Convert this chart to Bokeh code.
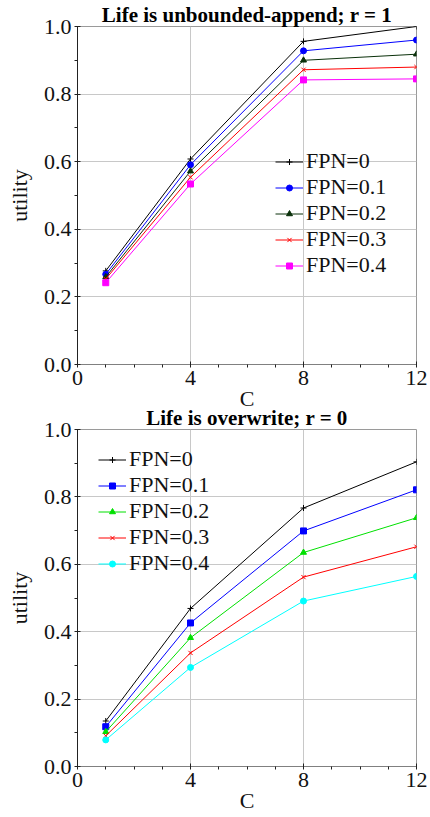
from bokeh.plotting import figure
from bokeh.layouts import column
from bokeh.models import Range1d, FixedTicker, Legend, LegendItem, CustomJSTickFormatter
from bokeh.embed import file_html
from bokeh.resources import INLINE

C = [1, 4, 8, 12]
labels = ["FPN=0", "FPN=0.1", "FPN=0.2", "FPN=0.3", "FPN=0.4"]

top_title = "Life is unbounded-append; r = 1"
top_vals = [
    [0.277, 0.608, 0.956, 1.000],
    [0.267, 0.591, 0.928, 0.960],
    [0.259, 0.572, 0.900, 0.918],
    [0.253, 0.554, 0.872, 0.880],
    [0.242, 0.534, 0.842, 0.845],
]
top_colors = ["#000000", "#0000ff", "#0a300a", "#ff0000", "#ff00ff"]
top_markers = ["cross", "circle", "triangle", "x", "square"]

bot_title = "Life is overwrite; r = 0"
bot_vals = [
    [0.135, 0.469, 0.767, 0.904],
    [0.118, 0.426, 0.699, 0.821],
    [0.103, 0.382, 0.635, 0.738],
    [0.091, 0.337, 0.562, 0.652],
    [0.079, 0.294, 0.491, 0.564],
]
bot_colors = ["#000000", "#0000ff", "#00e000", "#ff0000", "#00ffff"]
bot_markers = ["cross", "square", "triangle", "x", "circle"]

x_major = [0, 4, 8, 12]
x_minor = [1, 2, 3, 5, 6, 7, 9, 10, 11]
y_major = [0.0, 0.2, 0.4, 0.6, 0.8, 1.0]
y_minor = [0.1, 0.3, 0.5, 0.7, 0.9]

FONT = "Liberation Serif"


def make(title, vals, colors, markers, frame_h, legend_xy, border_alpha):
    p = figure(frame_width=339, frame_height=frame_h, output_backend="svg", toolbar_location=None,
               x_range=Range1d(0, 12), y_range=Range1d(0, 1.0),
               min_border_left=77, min_border_right=14, min_border_top=26,
               min_border_bottom=51, title=title)
    p.title.text_font = FONT
    p.title.text_font_size = "21px"
    p.title.text_font_style = "bold"
    p.title.text_color = "#000000"
    p.title.align = "center"
    p.title.standoff = 0
    p.title.offset = 0
    p.outline_line_color = "#9a9a9a"
    p.background_fill_color = "white"
    p.border_fill_color = "white"
    p.border_fill_alpha = border_alpha

    items = []
    for v, c, m, lab in zip(vals, colors, markers, labels):
        r1 = p.line(C, v, line_color=c, line_width=1)
        r2 = p.scatter(C, v, marker=m, size=6, line_color=c, fill_color=c, line_width=1)
        items.append(LegendItem(label=lab, renderers=[r1, r2]))

    leg = Legend(items=items, location=legend_xy, padding=0, margin=0, spacing=0,
                 label_height=25, glyph_height=15, glyph_width=28, label_standoff=3,
                 background_fill_alpha=0, border_line_alpha=0,
                 label_text_font=FONT, label_text_font_size="22px",
                 label_text_color="#111111")
    p.add_layout(leg, "center")

    p.xaxis.ticker = FixedTicker(ticks=x_major, minor_ticks=x_minor)
    p.yaxis.ticker = FixedTicker(ticks=y_major, minor_ticks=y_minor)
    p.yaxis.formatter = CustomJSTickFormatter(code="return tick.toFixed(1);")
    p.xaxis.formatter = CustomJSTickFormatter(code="return tick.toFixed(0);")
    for ax in (p.xaxis, p.yaxis):
        ax.major_label_text_font = FONT
        ax.major_label_text_font_size = "22px"
        ax.major_label_text_color = "#111111"
        ax.axis_label_text_font = FONT
        ax.axis_label_text_font_size = "22px"
        ax.axis_label_text_font_style = "normal"
        ax.axis_label_text_color = "#111111"
        ax.major_tick_in = 3
        ax.major_tick_out = 3
        ax.minor_tick_in = 0
        ax.minor_tick_out = 3
        ax.major_tick_line_color = "#222222"
        ax.minor_tick_line_color = "#222222"
        ax.major_label_standoff = 3
    p.xaxis.axis_label_standoff = -2
    p.yaxis.axis_label_standoff = 9
    p.xaxis.axis_label = "C"
    p.yaxis.axis_label = "utility"
    p.xaxis.axis_line_color = "#808080"
    p.yaxis.axis_line_color = "#222222"
    p.grid.grid_line_color = "#c8c8c8"
    p.grid.grid_line_width = 1
    p.xgrid.ticker = FixedTicker(ticks=x_major)
    p.ygrid.ticker = FixedTicker(ticks=y_major)
    return p


p1 = make(top_title, top_vals, top_colors, top_markers, 338, (198, 86), 1.0)
p2 = make(bot_title, bot_vals, bot_colors, bot_markers, 337, (21, 190), 0.0)
p2.margin = (-12, 0, 0, 0)

layout = column(p1, p2, spacing=0)
open("out.html", "w").write(file_html(layout, INLINE))
